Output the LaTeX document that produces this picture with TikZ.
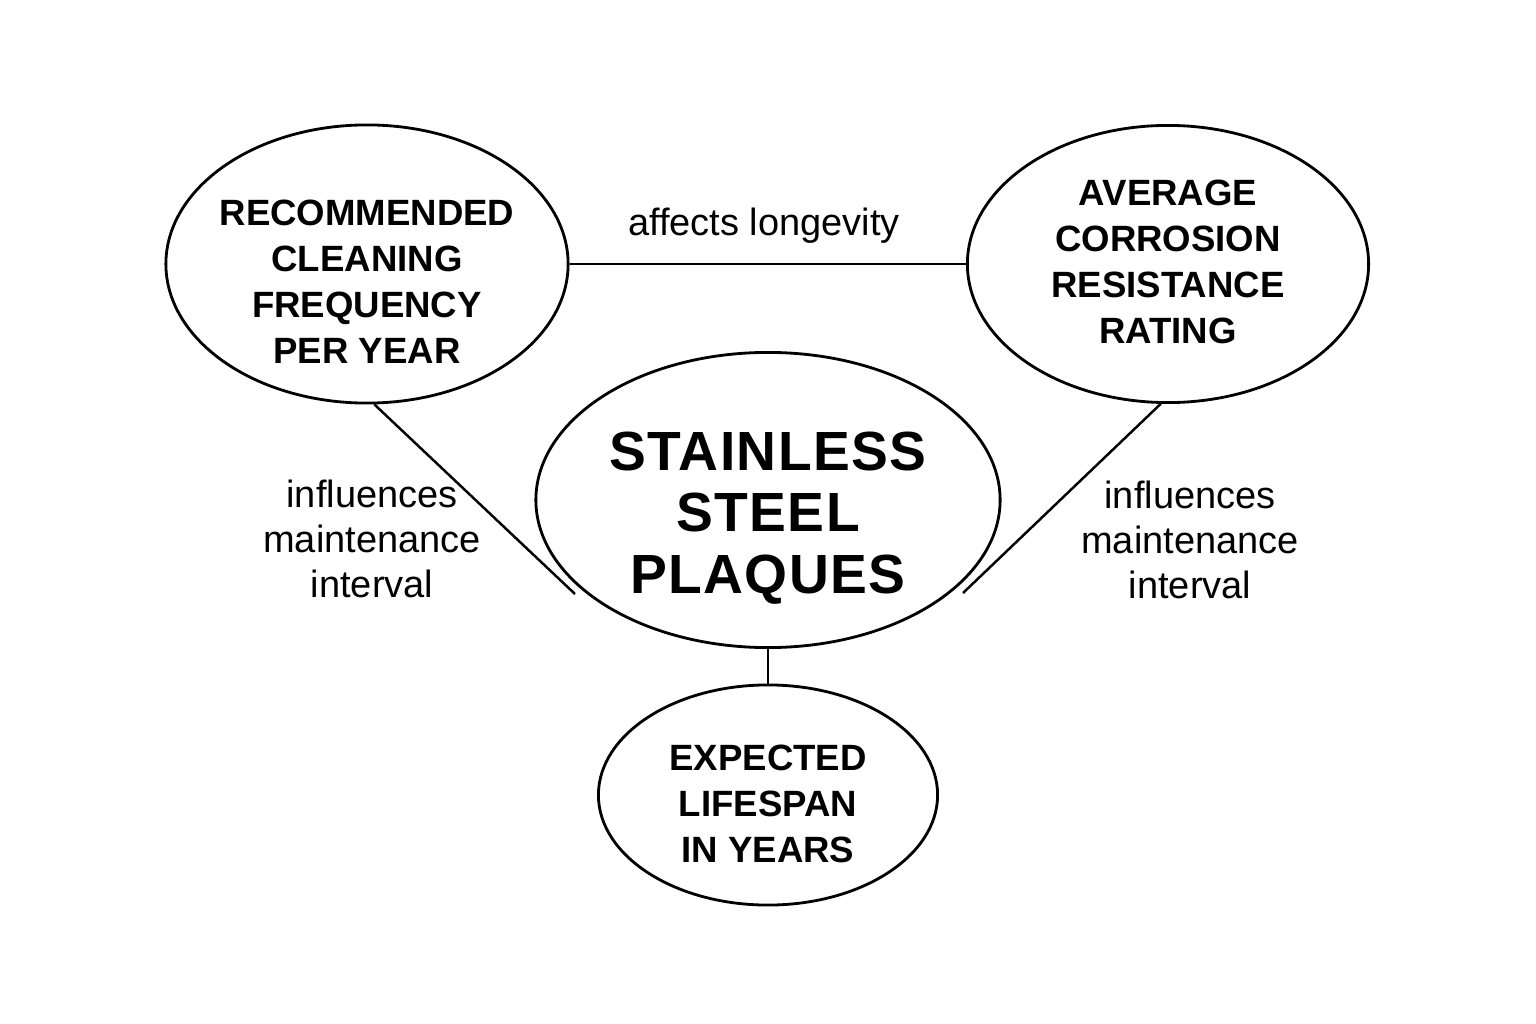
\documentclass[tikz,border=0pt]{standalone}
\usepackage{fontspec}
\setmainfont{Liberation Sans}
\usetikzlibrary{shapes.geometric}
\begin{document}
\begin{tikzpicture}[x=0.01cm,y=-0.01cm,
  oval/.style={ellipse, draw, line width=0.8pt, inner sep=0pt},
  smalltxt/.style={font=\bfseries\fontsize{10.4}{13.1}\selectfont, align=center, inner sep=0pt},
  bigtxt/.style={font=\bfseries\fontsize{15.7}{17.5}\selectfont\addfontfeature{LetterSpace=2.5}, align=center, inner sep=0pt},
  lbl/.style={font=\fontsize{10.8}{12.8}\selectfont, align=center, inner sep=0pt},
  link/.style={line width=0.7pt}]
\useasboundingbox (0,0) rectangle (1536,1024);
\fill[white] (0,0) rectangle (1536,1024);

% ellipses
\node[oval, minimum width=4.02cm, minimum height=2.78cm] (L) at (367,264) {};
\node[oval, minimum width=4.01cm, minimum height=2.77cm] (R) at (1168,264) {};
\node[oval, minimum width=4.64cm, minimum height=2.95cm] (C) at (768,500) {};
\node[oval, minimum width=3.39cm, minimum height=2.20cm] (B) at (768,795) {};

% texts
\node[smalltxt] (Lt) at (367,282) {RECOMMENDED\\CLEANING\\FREQUENCY\\PER YEAR};
\node[smalltxt] (Rt) at (1168,262) {AVERAGE\\CORROSION\\RESISTANCE\\RATING};
\node[bigtxt] (Ct) at (768,518) {STAINLESS\\STEEL\\PLAQUES};
\node[smalltxt] (Bt) at (768,804) {EXPECTED\\LIFESPAN\\IN YEARS};

% connectors
\coordinate (cl) at (575,594);
\coordinate (cr) at (963,593);
\draw[link] (L.east) -- (R.west);
\draw[link] (L.-87) -- (cl);
\draw[link] (R.-93) -- (cr);
\draw[link] (C.south) -- (B.north);

% labels
\node[lbl, anchor=base] (top) at (764,235) {affects longevity};
\node[lbl] (lefl) at (372,539) {influences\\maintenance\\interval};
\node[lbl] (rigl) at (1190,540) {influences\\maintenance\\interval};
\end{tikzpicture}
\end{document}
